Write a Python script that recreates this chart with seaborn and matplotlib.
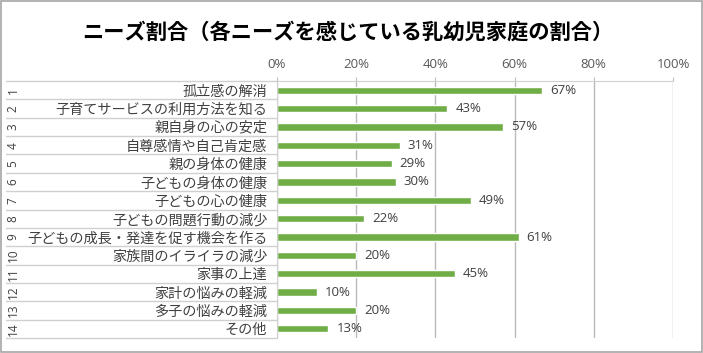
import seaborn as sns
import matplotlib.pyplot as plt
import pandas as pd

# data
numbers = [str(i) for i in range(1, 15)]
needs = ["孤立感の解消", "子育てサービスの利用方法を知る", "親自身の心の安定",
         "自尊感情や自己肯定感", "親の身体の健康", "子どもの身体の健康",
         "子どもの心の健康", "子どもの問題行動の減少",
         "子どもの成長・発達を促す機会を作る", "家族間のイライラの減少",
         "家事の上達", "家計の悩みの軽減", "多子の悩みの軽減", "その他"]
ratios = [67, 43, 57, 31, 29, 30, 49, 22, 61, 20, 45, 10, 20, 13]
x_ticks = [0, 20, 40, 60, 80, 100]

df = pd.DataFrame({"need": needs, "ratio": ratios})

sns.set_style("white")
plt.rcParams['font.family'] = ['Noto Sans CJK JP', 'DejaVu Sans']

fig = plt.figure(figsize=(7.03, 3.53), dpi=100)
ax = fig.add_axes([277 / 703, 1 - 338 / 353, 396 / 703, 257 / 353])

sns.barplot(data=df, x="ratio", y="need", color="#70AD47", width=0.4,
            saturation=1, ax=ax)

ax.set_xlim(0, 100)
ax.set_ylim(len(needs) - 0.5, -0.5)
ax.set_xlabel("")
ax.set_ylabel("")

# x axis on top
ax.xaxis.tick_top()
ax.set_xticks(x_ticks)
ax.set_xticklabels([f"{t}%" for t in x_ticks], fontsize=9.5, color="#595959",
                   family=['Open Sans', 'DejaVu Sans'])
ax.tick_params(axis="x", length=3, color="#BFBFBF", pad=4)
ax.tick_params(axis="y", length=0, pad=7, labelsize=10.2, labelcolor="#404040")
ax.grid(axis="x", color="#BABABA", linewidth=1)
ax.set_axisbelow(True)

for side in ["right", "bottom"]:
    ax.spines[side].set_visible(False)
ax.spines["top"].set_color("#D0D0D0")
ax.spines["left"].set_color("#D0D0D0")

# value labels
for i, v in enumerate(ratios):
    ax.text(v + 2, i, f"{v}%", va="center", ha="left", fontsize=9.5,
            color="#404040", family=['Open Sans', 'DejaVu Sans'])

# table-like multi level category axis
trans = ax.get_yaxis_transform()
left_edge = -(277 - 6) / 396
for k in range(len(needs) + 1):
    ax.plot([left_edge, 0], [k - 0.5, k - 0.5], transform=trans, color="#D0D0D0",
            linewidth=1, clip_on=False)
for i, n in enumerate(numbers):
    ax.text(-(277 - 13) / 396, i, n, transform=trans, rotation=90,
            ha="center", va="center", fontsize=8.5, color="#404040",
            family=['Open Sans', 'DejaVu Sans'])

fig.text(0.495, 1 - 32 / 353, "ニーズ割合（各ニーズを感じている乳幼児家庭の割合）",
         ha="center", va="center", fontsize=15.3, fontweight="bold", color="#000000")

# chart border
fig.patches.append(plt.Rectangle((0.001, 0.003), 0.997, 0.995, transform=fig.transFigure,
                                 fill=False, edgecolor="#A6A6A6", linewidth=1.2))

fig.savefig("out.png", dpi=100)
